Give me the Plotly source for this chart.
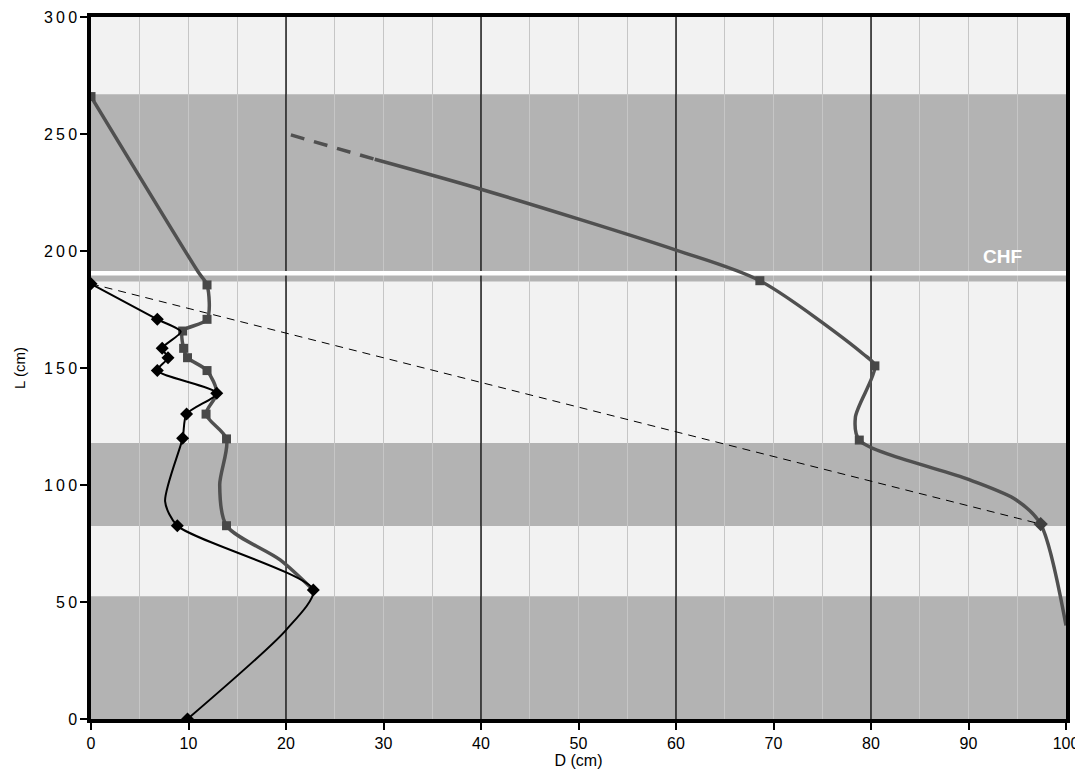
import plotly.graph_objects as go

# ---- data ----
# shaded bands (L ranges, cm)
band_lo = [0, 82.5, 187]
band_hi = [52.5, 118, 267]
chf_level = 190.5

# black series (curve knots)
black_x = [0, 6.8, 9.2, 7.3, 7.9, 6.8, 12.9, 9.8, 9.4, 7.6, 8.85, 22.8, 20, 9.9]
black_L = [186, 170.8, 165.5, 158.4, 154.4, 148.9, 139.2, 130.3, 120, 93, 82.6, 55.1, 38, 0]
# black diamond markers
black_mx = [0, 6.8, 7.3, 7.9, 6.8, 12.9, 9.8, 9.4, 8.85, 22.8, 9.9]
black_mL = [186, 170.8, 158.4, 154.4, 148.9, 139.2, 130.3, 120, 82.6, 55.1, 0]

# left grey series (curve knots)
grey1_x = [0, 11, 11.9, 11.9, 9.4, 9.5, 9.9, 11.9, 12.9, 11.8, 13.9, 13.2, 13.9, 19.4, 22.8]
grey1_L = [266, 191, 185.5, 170.8, 165.8, 158.4, 154.4, 148.9, 139.2, 130.3, 119.7, 100, 82.6, 68, 55.1]
# left grey square markers
grey1_mx = [0, 11.9, 11.9, 9.4, 9.5, 9.9, 11.9, 11.8, 13.9, 13.9]
grey1_mL = [266, 185.5, 170.8, 165.8, 158.4, 154.4, 148.9, 130.3, 119.7, 82.6]

# right grey series: dashed start, then solid curve
grey2_dash_x = [20.5, 29.1]
grey2_dash_L = [249.6, 239.2]
grey2_x = [29.1, 40, 60, 68.6, 79.2, 80.4, 78.4, 78.8, 90, 94.9, 97.4, 100]
grey2_L = [239.2, 226.4, 200.4, 187.3, 156, 150.9, 129, 119.2, 102.4, 93.6, 83.3, 40]
grey2_sq_x = [68.6, 80.4, 78.8]
grey2_sq_L = [187.3, 150.9, 119.2]
grey2_dm_x = [97.4]
grey2_dm_L = [83.3]

# thin dashed reference line
ref_x = [0, 97.4]
ref_L = [186, 83.3]

x_ticks = [0, 10, 20, 30, 40, 50, 60, 70, 80, 90, 100]
y_ticks = [0, 50, 100, 150, 200, 250, 300]
black_grid = [20, 40, 60, 80]

GREY = "#505050"
FONT = "Liberation Sans, Arial, sans-serif"

fig = go.Figure()

fig.add_trace(go.Scatter(x=ref_x, y=ref_L, mode="lines",
                         line=dict(color="black", width=1, dash="8px,6px"),
                         hoverinfo="skip", showlegend=False))

fig.add_trace(go.Scatter(x=grey1_x, y=grey1_L, mode="lines",
                         line=dict(color=GREY, width=3.5, shape="spline", smoothing=0.8),
                         showlegend=False))
fig.add_trace(go.Scatter(x=grey1_mx, y=grey1_mL, mode="markers",
                         marker=dict(symbol="square", size=9, color="#484848"),
                         showlegend=False))

fig.add_trace(go.Scatter(x=grey2_dash_x, y=grey2_dash_L, mode="lines",
                         line=dict(color=GREY, width=3.5, dash="14px,10px"),
                         showlegend=False))
fig.add_trace(go.Scatter(x=grey2_x, y=grey2_L, mode="lines",
                         line=dict(color=GREY, width=3.5, shape="spline", smoothing=0.8),
                         showlegend=False))
fig.add_trace(go.Scatter(x=grey2_sq_x, y=grey2_sq_L, mode="markers",
                         marker=dict(symbol="square", size=9, color="#484848"),
                         showlegend=False))
fig.add_trace(go.Scatter(x=grey2_dm_x, y=grey2_dm_L, mode="markers",
                         marker=dict(symbol="diamond", size=11, color="#404040"),
                         showlegend=False))

fig.add_trace(go.Scatter(x=black_x, y=black_L, mode="lines",
                         line=dict(color="black", width=2, shape="spline", smoothing=0.7),
                         showlegend=False))
fig.add_trace(go.Scatter(x=black_mx, y=black_mL, mode="markers",
                         marker=dict(symbol="diamond", size=10, color="black"),
                         showlegend=False))

shapes = []
for lo, hi in zip(band_lo, band_hi):
    shapes.append(dict(type="rect", xref="x", yref="y", x0=0, x1=100, y0=lo, y1=hi,
                       fillcolor="#b3b3b3", line=dict(width=0), layer="below"))
for gx in black_grid:
    shapes.append(dict(type="line", xref="x", yref="y", x0=gx, x1=gx, y0=0, y1=300,
                       line=dict(color="black", width=1.3), layer="between"))
shapes.append(dict(type="line", xref="x", yref="y", x0=0, x1=100, y0=chf_level, y1=chf_level,
                   line=dict(color="white", width=4.5), layer="between"))

fig.update_layout(
    width=1075, height=768,
    margin=dict(l=83, r=17, t=9, b=57, autoexpand=False),
    paper_bgcolor="white",
    plot_bgcolor="#f2f2f2",
    shapes=shapes,
    font=dict(family=FONT, color="black"),
    annotations=[dict(x=93.5, y=197.5, xref="x", yref="y", text="<b>CHF</b>",
                      showarrow=False, font=dict(family=FONT, size=19, color="white"))],
)
fig.update_xaxes(range=[0, 100], tickvals=x_ticks, ticks="outside", ticklen=7, tickwidth=2,
                 tickcolor="black", showline=True, linecolor="black", linewidth=3.5, mirror=True,
                 showgrid=True, gridcolor="#c6c6c6", gridwidth=1, zeroline=False, automargin=False,
                 tickfont=dict(size=16), title=dict(text="D (cm)", font=dict(size=16), standoff=3))
fig.update_xaxes(minor=dict(showgrid=True, gridcolor="#c6c6c6", dtick=5))
fig.update_yaxes(range=[0, 300], tickvals=y_ticks,
                 ticktext=["\u2009".join(str(v)) for v in y_ticks],
                 ticks="outside", ticklen=7, tickwidth=2,
                 tickcolor="black", showline=True, linecolor="black", linewidth=3.5, mirror=True,
                 showgrid=False, zeroline=False, automargin=False,
                 tickfont=dict(size=16), title=dict(text="L (cm)", font=dict(size=15), standoff=16))

fig.write_html("out.html")
